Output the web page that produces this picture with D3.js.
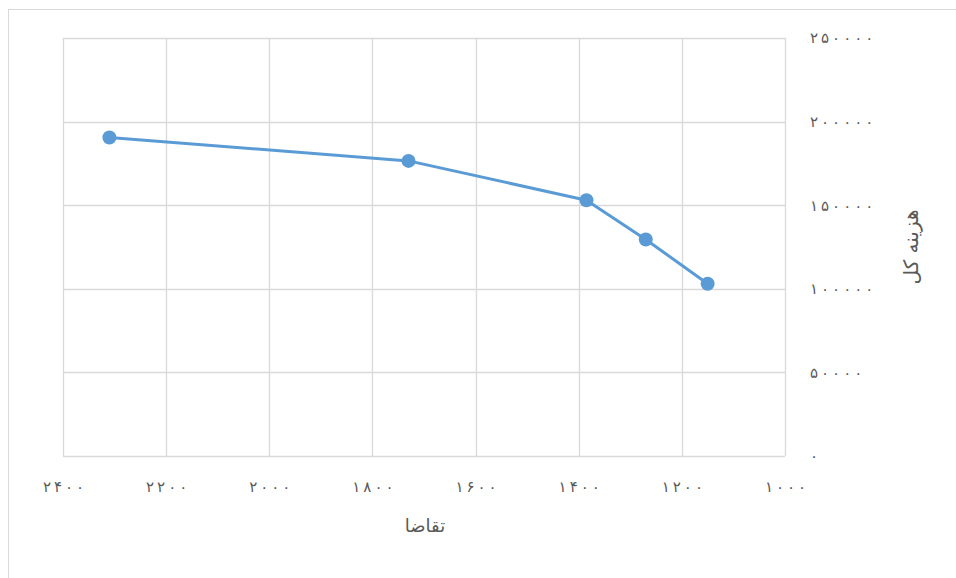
<!DOCTYPE html>
<html><head><meta charset="utf-8">
<script src="https://cdn.jsdelivr.net/npm/d3@7"></script>
<style>
html,body{margin:0;padding:0;background:#fff;}
svg{display:block;}
</style></head>
<body>
<svg id="c" width="956" height="578"></svg>
<script>
// Data
const demand = [2310, 1730, 1385, 1270, 1150];
const totalCost = [190500, 176500, 153000, 129500, 103000];
const xTicks = [2400, 2200, 2000, 1800, 1600, 1400, 1200, 1000];
const yTicks = [0, 50000, 100000, 150000, 200000, 250000];
const xTitle = "تقاضا";
const yTitle = "هزینه کل";

const fa = s => String(s).split("").map(d => "۰۱۲۳۴۵۶۷۸۹"[+d]).join("\u2009");

const svg = d3.select("#c");
const W = 956, H = 578;
const m = {left: 63, right: 785, top: 38, bottom: 456};

// outer chart frame
svg.append("rect").attr("x", 8.5).attr("y", 9.5).attr("width", W).attr("height", H)
  .attr("fill", "#fff").attr("stroke", "#d9d9d9").attr("stroke-width", 1);

const x = d3.scaleLinear().domain([2400, 1000]).range([m.left, m.right]);
const y = d3.scaleLinear().domain([0, 250000]).range([m.bottom, m.top]);

// gridlines
const grid = svg.append("g");
grid.selectAll("line.v").data(xTicks).join("line")
  .attr("x1", d => Math.round(x(d)) + 0.5).attr("x2", d => Math.round(x(d)) + 0.5)
  .attr("y1", m.top).attr("y2", m.bottom)
  .attr("stroke", "#d9d9d9").attr("stroke-width", 1.3);
grid.selectAll("line.h").data(yTicks).join("line")
  .attr("y1", d => Math.round(y(d)) + 0.5).attr("y2", d => Math.round(y(d)) + 0.5)
  .attr("x1", m.left).attr("x2", m.right)
  .attr("stroke", "#d9d9d9").attr("stroke-width", 1.3);

const font = "'DejaVu Sans', sans-serif";

// x axis labels
const xAxis = d3.axisBottom(x).tickValues(xTicks).tickSize(0).tickPadding(0)
  .tickFormat(d => fa(d));
const gx = svg.append("g").attr("transform", `translate(0,${m.bottom + 25})`).call(xAxis);
gx.select(".domain").remove();
gx.selectAll("text").attr("font-family", font).attr("font-size", 15)
  .attr("fill", "#595959").attr("dy", "0.35em").attr("y", 6);

// y axis labels
const yAxis = d3.axisRight(y).tickValues(yTicks).tickSize(0).tickPadding(0)
  .tickFormat(d => fa(d));
const gy = svg.append("g").attr("transform", `translate(810,0)`).call(yAxis);
gy.select(".domain").remove();
gy.selectAll("text").attr("font-family", font).attr("font-size", 15)
  .attr("fill", "#595959").attr("text-anchor", "start");

// titles
svg.append("text").attr("x", 425).attr("y", 532).attr("text-anchor", "middle")
  .attr("font-family", font).attr("font-size", 18).attr("fill", "#595959").text(xTitle);
svg.append("text").attr("transform", "translate(918,247) rotate(-90)").attr("text-anchor", "middle")
  .attr("font-family", font).attr("font-size", 20).attr("fill", "#595959").text(yTitle);

// series
const pts = demand.map((d, i) => [d, totalCost[i]]);
svg.append("path").datum(pts)
  .attr("d", d3.line().x(d => x(d[0])).y(d => y(d[1])))
  .attr("fill", "none").attr("stroke", "#5b9bd5").attr("stroke-width", 3)
  .attr("stroke-linejoin", "round");
svg.selectAll("circle.pt").data(pts).join("circle")
  .attr("cx", d => x(d[0])).attr("cy", d => y(d[1])).attr("r", 7)
  .attr("fill", "#5b9bd5");
</script>
</body></html>
